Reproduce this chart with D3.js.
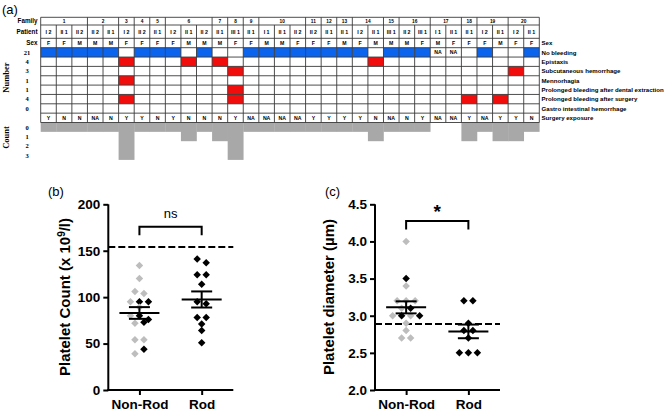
<!DOCTYPE html>
<html><head><meta charset="utf-8">
<script src="https://cdn.jsdelivr.net/npm/d3@7"></script>
<style>body{margin:0;background:#fff}svg{display:block}</style>
</head><body>
<svg id="chart" width="667" height="412"></svg>
<script>
// ---------------- DATA: panel (a) ----------------
const families = ["1","1","1","2","2","3","4","5","6","6","6","7","8","9","10","10","10","11","12","13","14","14","15","16","16","17","17","18","19","19","20","20"];
const patients = ["I 2","II 1","II 2","II 2","II 1","I 2","II 2","II 1","I 2","II 1","II 2","II 1","III 1","II 1","I 1","II 1","II 2","II 2","II 1","II 1","I 2","II 1","III 1","II 2","III 1","I 1","II 1","II 1","I 2","II 1","I 2","II 1"];
const sexes = ["F","F","M","M","M","F","F","F","F","M","M","M","F","F","M","M","F","F","F","M","F","M","M","M","F","M","F","F","F","M","F","F"];
const symptoms = ["No bleeding","Epistaxis","Subcutaneous hemorrhage","Mennorhagia","Prolonged bleeding after dental extraction","Prolonged bleeding after surgery","Gastro intestinal hemorrhage"];
const symptomNumbers = ["21","4","3","1","1","4","0"];
const noBleeding   = [1,1,1,1,1,0,1,1,1,0, 1,0,0,1,1,1,1,1,1,1, 1,0,1,1,1,"NA","NA",0,1,0, 0,1];
const epistaxis    = [0,0,0,0,0,1,0,0,0,1, 0,1,0,0,0,0,0,0,0,0, 0,1,0,0,0,0,0,0,0,0, 0,0];
const subcutaneous = [0,0,0,0,0,0,0,0,0,0, 0,0,1,0,0,0,0,0,0,0, 0,0,0,0,0,0,0,0,0,0, 1,0];
const menorrhagia  = [0,0,0,0,0,1,0,0,0,0, 0,0,0,0,0,0,0,0,0,0, 0,0,0,0,0,0,0,0,0,0, 0,0];
const dental       = [0,0,0,0,0,0,0,0,0,0, 0,0,1,0,0,0,0,0,0,0, 0,0,0,0,0,0,0,0,0,0, 0,0];
const afterSurgery = [0,0,0,0,0,1,0,0,0,0, 0,0,1,0,0,0,0,0,0,0, 0,0,0,0,0,0,0,1,0,1, 0,0];
const giHemorrhage = [0,0,0,0,0,0,0,0,0,0, 0,0,0,0,0,0,0,0,0,0, 0,0,0,0,0,0,0,0,0,0, 0,0];
const surgeryExposure = ["Y","N","N","NA","N","Y","Y","N","Y","N","N","N","Y","NA","NA","NA","NA","Y","Y","Y","Y","N","NA","N","Y","NA","NA","Y","NA","Y","Y","N"];
const bleedCounts = [0,0,0,0,0,3,0,0,0,1, 0,1,3,0,0,0,0,0,0,0, 0,1,0,0,0,null,null,1,0,1, 1,0];
const countTicks = [0,1,2,3];

// ---------------- DATA: panel (b) ----------------
const groupNames = ["Non-Rod","Rod"];
const countNonRodGray  = [134,120,106,104,95,89,80,72,54,54,39];
const countNonRodBlack = [95,95,80,76,73,44];
const countRodBlack    = [141,137,124,124,114,95,93,78,78,71,64,51];
const countTicksB = [0,50,100,150,200];
const countRef = 154;

// ---------------- DATA: panel (c) ----------------
const diaNonRodGray  = [4.0,3.4,3.2,3.2,3.2,3.1,3.0,3.0,2.9,2.8,2.7,2.7];
const diaNonRodBlack = [3.5,3.1,3.0,3.0];
const diaRodBlack    = [3.2,3.2,2.9,2.8,2.8,2.7,2.5,2.5,2.5];
const diaTicks = [2.0,2.5,3.0,3.5,4.0,4.5];
const diaRef = 2.89;
const sigLabels = ["ns","*"];

// ---------------- DRAW ----------------
const svg = d3.select("#chart");
const SANS = "'Liberation Sans', Arial, sans-serif";
const SERIF = "'Liberation Serif', 'Times New Roman', serif";
const BLUE = "#0B64EE", RED = "#F20D0D", BAR = "#A8A8A8", LINE = "#3a3a3a";

svg.append("text").attr("x",2).attr("y",14).attr("font-family",SANS).attr("font-size",13).text("(a)");

const nCol = patients.length;
const x = d3.scaleBand().domain(d3.range(nCol)).range([40.7, 539.3]);
const famTop = 17.3, patTop = 25, sexTop = 38.3, dataTop = 47.7, rowH = 9.35;
const rowKeys = symptoms.concat(["Surgery exposure"]);
const yRow = d3.scaleBand().domain(d3.range(rowKeys.length)).range([dataTop, dataTop + rowKeys.length*rowH]);
const tableBottom = dataTop + rowKeys.length*rowH;
const yCount = d3.scaleBand().domain(countTicks).range([tableBottom, tableBottom + countTicks.length*rowH]);
const symptomRows = [noBleeding, epistaxis, subcutaneous, menorrhagia, dental, afterSurgery, giHemorrhage];

const gA = svg.append("g");
// count bars
gA.selectAll("rect.bar").data(bleedCounts.map((c,i)=>({c,i})).filter(d=>d.c!==null))
  .join("rect").attr("class","bar")
  .attr("x",d=>x(d.i)).attr("width",x.bandwidth()+0.3)
  .attr("y",yCount(0)).attr("height",d=>yCount(d.c)+yCount.bandwidth()-yCount(0))
  .attr("fill",BAR);
// filled cells
const cells = [];
symptomRows.forEach((arr,r)=>arr.forEach((v,c)=>{ if(v===1) cells.push({r,c}); }));
gA.selectAll("rect.cell").data(cells).join("rect").attr("class","cell")
  .attr("x",d=>x(d.c)).attr("y",d=>yRow(d.r)).attr("width",x.bandwidth()).attr("height",yRow.bandwidth())
  .attr("fill",d=>d.r===0?BLUE:RED);
// grid
const hLines = [famTop, patTop, sexTop, dataTop].concat(d3.range(1,rowKeys.length+1).map(i=>dataTop+i*rowH));
gA.selectAll("line.h").data(hLines).join("line").attr("class","h")
  .attr("x1",x(0)).attr("x2",x(nCol-1)+x.bandwidth()).attr("y1",d=>d).attr("y2",d=>d)
  .attr("stroke",LINE).attr("stroke-width",0.9);
const colEdges = d3.range(nCol+1).map(i=> i<nCol ? x(i) : x(nCol-1)+x.bandwidth());
gA.selectAll("line.v").data(colEdges).join("line").attr("class","v")
  .attr("x1",d=>d).attr("x2",d=>d).attr("y1",patTop).attr("y2",tableBottom)
  .attr("stroke",LINE).attr("stroke-width",0.9);
// family groups
const famGroups = [];
families.forEach((f,i)=>{ const last = famGroups[famGroups.length-1]; if(last && last.f===f) last.end=i; else famGroups.push({f,start:i,end:i}); });
const famEdges = famGroups.map(g=>x(g.start)).concat([x(nCol-1)+x.bandwidth()]);
gA.selectAll("line.fv").data(famEdges).join("line").attr("class","fv")
  .attr("x1",d=>d).attr("x2",d=>d).attr("y1",famTop).attr("y2",patTop)
  .attr("stroke",LINE).attr("stroke-width",0.9);
gA.selectAll("text.fam").data(famGroups).join("text").attr("class","fam")
  .attr("x",g=>(x(g.start)+x(g.end)+x.bandwidth())/2).attr("y",(famTop+patTop)/2)
  .attr("dy","0.36em").attr("text-anchor","middle").attr("font-family",SANS).attr("font-weight","bold").attr("font-size",4.8)
  .text(g=>g.f);
function rowText(arr, yc, size){
  gA.append("g").selectAll("text").data(arr).join("text")
    .attr("x",(d,i)=>x(i)+x.bandwidth()/2).attr("y",yc).attr("dy","0.36em")
    .attr("text-anchor","middle").attr("font-family",SANS).attr("font-weight","bold").attr("font-size",size)
    .text(d=>d);
}
rowText(patients,(patTop+sexTop)/2,5.3);
rowText(sexes,(sexTop+dataTop)/2,5.2);
rowText(noBleeding.map(v=>v==="NA"?"NA":""), yRow(0)+yRow.bandwidth()/2, 5.2);
rowText(surgeryExposure, yRow(7)+yRow.bandwidth()/2, 5.2);
// left labels
[["Family",(famTop+patTop)/2],["Patient",(patTop+sexTop)/2],["Sex",(sexTop+dataTop)/2]].forEach(([t,yc])=>{
  gA.append("text").attr("x",37.5).attr("y",yc).attr("dy","0.36em").attr("text-anchor","end")
    .attr("font-family",SANS).attr("font-weight","bold").attr("font-size",6.3).text(t);
});
gA.append("g").selectAll("text").data(symptomNumbers).join("text")
  .attr("x",27).attr("y",(d,i)=>yRow(i)+yRow.bandwidth()/2).attr("dy","0.36em").attr("text-anchor","middle")
  .attr("font-family",SERIF).attr("font-weight","bold").attr("font-size",6.5).text(d=>d);
gA.append("g").selectAll("text").data(countTicks).join("text")
  .attr("x",27).attr("y",d=>yCount(d)+yCount.bandwidth()/2).attr("dy","0.36em").attr("text-anchor","middle")
  .attr("font-family",SERIF).attr("font-weight","bold").attr("font-size",6.5).text(d=>d);
gA.append("text").attr("transform",`translate(6,${yRow(1)+yRow.bandwidth()*2.2}) rotate(-90)`)
  .attr("text-anchor","middle").attr("dy","0.35em").attr("font-family",SERIF).attr("font-weight","bold").attr("font-size",8.5).text("Number");
gA.append("text").attr("transform",`translate(6,${yCount(1)+yCount.bandwidth()/2+1}) rotate(-90)`)
  .attr("text-anchor","middle").attr("dy","0.35em").attr("font-family",SERIF).attr("font-weight","bold").attr("font-size",8.5).text("Count");
// right labels
const rightLabels = [["Sex",(sexTop+dataTop)/2]].concat(rowKeys.map((k,i)=>[k,yRow(i)+yRow.bandwidth()/2]));
gA.append("g").selectAll("text").data(rightLabels).join("text")
  .attr("x",541.5).attr("y",d=>d[1]).attr("dy","0.36em")
  .attr("font-family",SANS).attr("font-weight","bold").attr("font-size",6.1).text(d=>d[0]);

// ---------------- scatter panels ----------------
function swarm(gray, black, y, cx, s, h){
  const pts = gray.map(v=>({v,c:"g"})).concat(black.map(v=>({v,c:"b"})));
  pts.forEach(p=>p.y=y(p.v));
  pts.sort((a,b)=>a.y-b.y);
  const rows=[]; let cur=null;
  pts.forEach(p=>{ if(!cur || p.y-cur[0].y>h){cur=[p];rows.push(cur);} else cur.push(p); });
  rows.forEach(r=>{
    const g=r.filter(p=>p.c==="g"), b=r.filter(p=>p.c==="b"), o=[];
    while(g.length||b.length){ if(g.length)o.push(g.shift()); if(b.length)o.push(b.shift()); }
    o.forEach((p,i)=>p.x=cx+(i-(o.length-1)/2)*s);
  });
  return pts;
}
function panel(o){
  const g = svg.append("g");
  const y = d3.scaleLinear().domain(o.domain).range([390,204.3]);
  const xs = d3.scalePoint().domain(groupNames).range([o.x0, o.x0+124.5]).padding(0.5);
  g.append("text").attr("x",o.labelX).attr("y",196).attr("font-family",SANS).attr("font-size",13).text(o.label);
  // reference line
  g.append("line").attr("x1",o.x0).attr("x2",o.x0+125).attr("y1",y(o.ref)).attr("y2",y(o.ref))
    .attr("stroke","#000").attr("stroke-width",2).attr("stroke-dasharray","7,3");
  // points
  const diamond = d3.symbol(d3.symbolSquare, 28);
  o.groups.forEach((gr,gi)=>{
    const pts = swarm(gr.gray, gr.black, y, xs(groupNames[gi]), 9, 5.5);
    g.append("g").selectAll("path").data(pts).join("path")
      .attr("d",diamond).attr("transform",p=>`translate(${p.x},${p.y}) rotate(45)`)
      .attr("fill",p=>p.c==="g"?"#BDBDBD":"#000");
    const all = gr.gray.concat(gr.black);
    const m = d3.mean(all), se = d3.deviation(all)/Math.sqrt(all.length);
    const cx = xs(groupNames[gi]);
    const lg = g.append("g").attr("stroke","#000").attr("stroke-width",2).attr("fill","none");
    lg.append("line").attr("x1",cx-20).attr("x2",cx+20).attr("y1",y(m)).attr("y2",y(m));
    lg.append("line").attr("x1",cx).attr("x2",cx).attr("y1",y(m-se)).attr("y2",y(m+se));
    lg.append("line").attr("x1",cx-10.5).attr("x2",cx+10.5).attr("y1",y(m+se)).attr("y2",y(m+se));
    lg.append("line").attr("x1",cx-10.5).attr("x2",cx+10.5).attr("y1",y(m-se)).attr("y2",y(m-se));
  });
  // axes
  const ay = g.append("g").attr("transform",`translate(${o.x0},0)`)
    .call(d3.axisLeft(y).tickValues(o.ticks).tickFormat(o.fmt).tickSize(5).tickSizeOuter(0).tickPadding(3));
  const ax = g.append("g").attr("transform",`translate(0,390)`)
    .call(d3.axisBottom(xs).tickSize(5).tickSizeOuter(0).tickPadding(4));
  [ay,ax].forEach(a=>{
    a.select(".domain").attr("stroke","#000").attr("stroke-width",2);
    a.selectAll(".tick line").attr("stroke","#000").attr("stroke-width",2);
    a.selectAll("text").attr("font-family",SANS).attr("font-weight","bold").attr("font-size",13.5).attr("fill","#000");
  });
  ax.select(".domain").attr("d",`M${o.x0-1},0H${o.x0+125}`);
  ay.select(".domain").attr("d",`M0,${y(o.domain[1])}V${391}`);
  // y title
  const t = g.append("text").attr("transform",`translate(${o.titleX},297) rotate(-90)`)
    .attr("text-anchor","middle").attr("dy","0.35em").attr("font-family",SANS).attr("font-weight","bold").attr("font-size",15);
  o.title(t);
  // bracket
  const a = xs(groupNames[0]), b = xs(groupNames[1]);
  g.append("path").attr("d",`M${a},${o.brTop+8.5}V${o.brTop}H${b}V${o.brTop+8.5}`)
    .attr("fill","none").attr("stroke","#000").attr("stroke-width",2);
  g.append("text").attr("x",(a+b)/2).attr("y",o.sigY).attr("text-anchor","middle")
    .attr("font-family",SANS).attr("font-size",o.sigSize).attr("font-weight",o.sigWeight).text(o.sig);
}
panel({x0:108.3, label:"(b)", labelX:48, domain:[0,200], ticks:countTicksB, fmt:d3.format("d"),
  ref:countRef, groups:[{gray:countNonRodGray,black:countNonRodBlack},{gray:[],black:countRodBlack}],
  titleX:65, title:t=>{ t.append("tspan").text("Platelet Count (x 10"); t.append("tspan").attr("dy",-5).attr("font-size",10).text("9"); t.append("tspan").attr("dy",5).text("/l)"); },
  brTop:226.7, sig:sigLabels[0], sigY:218, sigSize:13, sigWeight:"normal"});
panel({x0:375, label:"(c)", labelX:325, domain:[2.0,4.5], ticks:diaTicks, fmt:d3.format(".1f"),
  ref:diaRef, groups:[{gray:diaNonRodGray,black:diaNonRodBlack},{gray:[],black:diaRodBlack}],
  titleX:329, title:t=>t.text("Platelet diameter (µm)"),
  brTop:221, sig:sigLabels[1], sigY:218, sigSize:19, sigWeight:"bold"});
</script>
</body></html>
